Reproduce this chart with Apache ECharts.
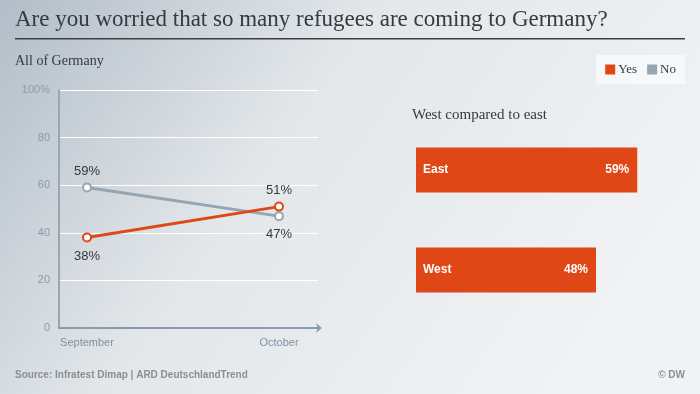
<!DOCTYPE html>
<html>
<head>
<meta charset="utf-8">
<script src="https://cdn.jsdelivr.net/npm/echarts@6/dist/echarts.min.js"></script>
<style>
html,body{margin:0;padding:0;}
#c{width:700px;height:394px;}
</style>
</head>
<body>
<div id="c"></div>
<script>
// ---- data ----
const months = ['September', 'October'];
const yesValues = [38, 51];
const noValues = [59, 47];
const regions = ['East', 'West'];
const regionYes = [59, 48];
const yTicks = [0, 20, 40, 60, 80, 100];

// ---- style ----
const ORANGE = '#e04716';
const GREY = '#96a5b2';
const AXIS = '#8c9bab';
const serif = '"Liberation Serif", "DejaVu Serif", serif';
const sans = '"Liberation Sans", Arial, sans-serif';

const yesLabelPos = ['bottom', 'top'];
const noLabelPos = ['top', 'bottom'];

function lineData(vals, pos) {
  return vals.map((v, i) => ({ value: [i, v], label: { position: pos[i], distance: pos[i] === 'top' ? 5 : 7 } }));
}

const chart = echarts.init(document.getElementById('c'), null, { renderer: 'canvas' });

const option = {
  animation: false,
  backgroundColor: {
    type: 'linear', x: 0, y: 0, x2: 0.8, y2: 1,
    colorStops: [
      { offset: 0, color: '#b2bdc8' },
      { offset: 0.45, color: '#e3e7ea' },
      { offset: 1, color: '#f1f2f4' }
    ]
  },
  graphic: [
    { type: 'text', left: 15, top: 8, style: { text: 'Are you worried that so many refugees are coming to Germany?', font: '23px ' + serif, fill: '#333a40' } },
    { type: 'rect', shape: { x: 15, y: 38, width: 670, height: 1.5 }, style: { fill: '#3a3f44' } },
    { type: 'text', left: 15, top: 54, style: { text: 'All of Germany', font: '14px ' + serif, fill: '#333a40' } },
    { type: 'text', left: 412, top: 108, style: { text: 'West compared to east', font: '15px ' + serif, fill: '#333a40' } },
    { type: 'text', left: 15, top: 370, style: { text: 'Source: Infratest Dimap | ARD DeutschlandTrend', font: 'bold 10px ' + sans, fill: '#8a8f94' } },
    { type: 'text', right: 15, top: 370, style: { text: '© DW', font: 'bold 10px ' + sans, fill: '#8a8f94' } }
  ],
  legend: {
    data: ['Yes', 'No'],
    right: 15, top: 55,
    icon: 'rect', itemWidth: 10, itemHeight: 10, itemGap: 10,
    padding: [8, 9, 8, 9],
    backgroundColor: '#f7f8fa',
    textStyle: { fontFamily: serif, fontSize: 13, color: '#333a40', padding: [0, 0, 0, -2] }
  },
  grid: [
    { left: 59, top: 90, width: 259, height: 238 },
    { left: 416, top: 120, width: 280, height: 200 }
  ],
  xAxis: [
    {
      gridIndex: 0, type: 'value',
      min: -28 / 192, max: 231 / 192,
      splitLine: { show: false },
      axisTick: { show: false },
      axisLine: { show: true, onZero: false, lineStyle: { color: AXIS, width: 2 }, symbol: ['none', 'arrow'], symbolSize: [7, 6], symbolOffset: [0, 4] },
      axisLabel: {
        customValues: [0, 1],
        formatter: v => months[Math.round(v)] || '',
        color: '#7f92a4', fontFamily: sans, fontSize: 11, margin: 9
      }
    },
    { gridIndex: 1, type: 'value', min: 0, max: 280 / 3.75, show: false }
  ],
  yAxis: [
    {
      gridIndex: 0, type: 'value', min: 0, max: 100, interval: 20,
      axisLine: { show: true, onZero: false, lineStyle: { color: '#9aa7b3', width: 2 } },
      axisTick: { show: false },
      splitLine: { lineStyle: { color: '#ffffff', width: 1 } },
      axisLabel: { formatter: v => v === 100 ? '100%' : String(v), color: '#8a9bab', fontFamily: sans, fontSize: 11, margin: 9 }
    },
    { gridIndex: 1, type: 'category', data: regions, inverse: true, show: false }
  ],
  series: [
    {
      name: 'No', type: 'line', xAxisIndex: 0, yAxisIndex: 0,
      data: lineData(noValues, noLabelPos),
      color: GREY,
      lineStyle: { width: 3, color: GREY },
      symbol: 'emptyCircle', symbolSize: 8,
      itemStyle: { borderWidth: 2 },
      label: { show: true, formatter: p => p.value[1] + '%', color: '#383838', fontFamily: sans, fontSize: 13 },
      z: 3
    },
    {
      name: 'Yes', type: 'line', xAxisIndex: 0, yAxisIndex: 0,
      data: lineData(yesValues, yesLabelPos),
      color: ORANGE,
      lineStyle: { width: 3, color: ORANGE },
      symbol: 'emptyCircle', symbolSize: 8,
      itemStyle: { borderWidth: 2 },
      label: { show: true, formatter: p => p.value[1] + '%', color: '#383838', fontFamily: sans, fontSize: 13 },
      z: 4
    },
    {
      name: 'regionYes', type: 'bar', xAxisIndex: 1, yAxisIndex: 1,
      data: regionYes, barWidth: 45,
      itemStyle: { color: ORANGE },
      label: { show: true, position: 'insideLeft', distance: 7, formatter: '{b}', color: '#fff', fontFamily: sans, fontWeight: 'bold', fontSize: 12 }
    },
    {
      name: 'regionYesLabel', type: 'bar', xAxisIndex: 1, yAxisIndex: 1,
      data: regionYes, barWidth: 45, barGap: '-100%',
      itemStyle: { color: 'rgba(0,0,0,0)' },
      label: { show: true, position: 'insideRight', distance: 8, formatter: '{c}%', color: '#fff', fontFamily: sans, fontWeight: 'bold', fontSize: 12 }
    }
  ]
};
chart.setOption(option);
</script>
</body>
</html>
